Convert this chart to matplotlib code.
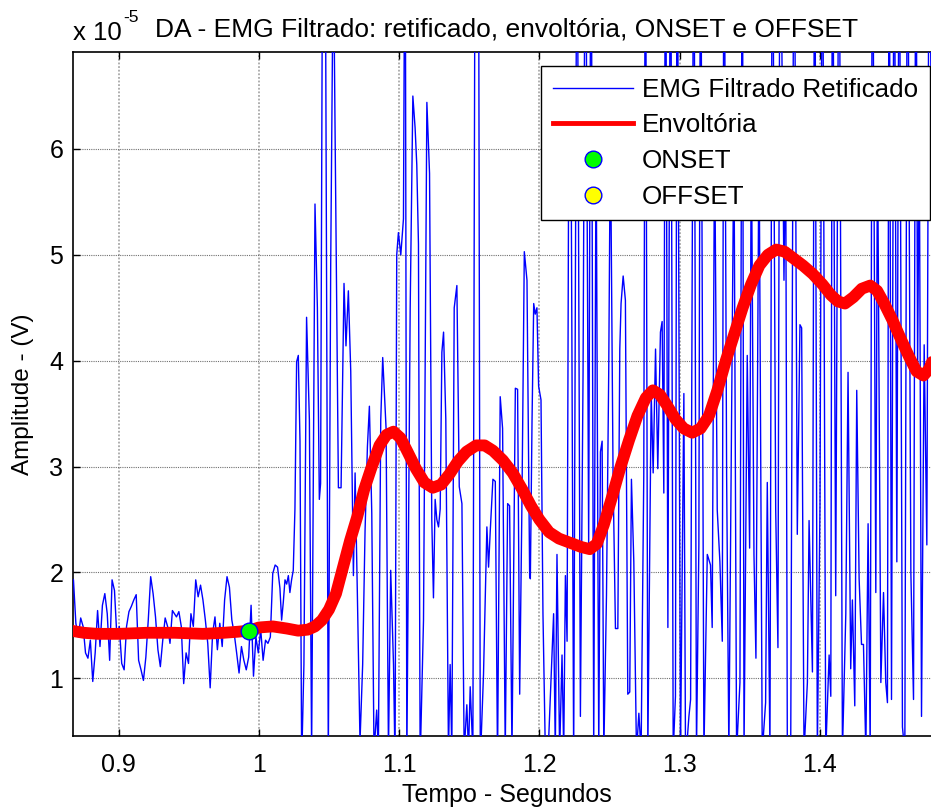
import numpy as np
import matplotlib
matplotlib.use("Agg")
import matplotlib.pyplot as plt
from matplotlib.lines import Line2D

plt.rcParams['font.family'] = ['Liberation Sans', 'DejaVu Sans']

# ---------------- data (amplitude in units of 1e-5 V) ----------------
# baseline segment A (uniform samples between the given times)
segA_t0, segA_t1 = 0.8660, 0.9383
segA_v = [1.95, 1.93, 1.52, 1.39, 1.57, 1.49, 1.24, 1.19, 1.36, 0.97, 1.24, 1.64, 1.30,
          1.69, 1.80, 1.61, 1.17, 1.93, 1.83, 1.39, 1.49, 1.14, 1.08, 1.49, 1.63,
          1.68, 1.74, 1.79, 1.17, 1.08, 0.98, 1.20, 1.55, 1.96, 1.80, 1.58, 1.27,
          1.11, 1.36, 1.57, 1.49, 1.33, 1.64]
# baseline segment B
segB_t0, segB_t1 = 0.9412, 1.0133
segB_v = [1.58, 1.63, 1.49, 0.95, 1.24, 1.14, 1.61, 1.49, 1.93, 1.77, 1.88, 1.74,
          1.55, 1.33, 0.91, 1.42, 1.58, 1.27, 1.52, 1.30, 1.74, 1.96, 1.86, 1.55,
          1.42, 1.24, 1.05, 1.30, 1.17, 1.08, 1.20, 1.69, 1.02, 1.39, 1.24, 1.46,
          1.17, 1.36, 1.33, 1.39, 1.99, 2.07, 2.05]
# activation onset segment C
segC_t = [1.0150, 1.0162, 1.0174, 1.0186, 1.0198, 1.0210, 1.0221, 1.0233, 1.0245, 1.0257,
          1.0269, 1.0281, 1.0293, 1.0305, 1.0321, 1.0340, 1.0360, 1.0376, 1.0400, 1.0417,
          1.0431, 1.0440, 1.0455, 1.0471, 1.0495, 1.0512, 1.0531, 1.0543, 1.0567, 1.0586,
          1.0607, 1.0621, 1.0638, 1.0655, 1.0674, 1.0686, 1.0702, 1.0721, 1.0740, 1.0757,
          1.0774, 1.0788, 1.0805, 1.0821, 1.0840, 1.0852, 1.0869, 1.0883, 1.0907, 1.0924,
          1.0940, 1.0960, 1.0971, 1.0983, 1.0995, 1.1012, 1.1031, 1.1043]
segC_v = [1.85, 1.55, 1.72, 1.93, 1.89, 1.97, 1.81, 1.93, 2.02, 2.60,
          3.99, 4.05, 3.24, 0.20, 1.13, 4.41, 3.44, 0.30, 5.48, 4.50,
          2.69, 2.84, 8.50, 9.00, 0.20, 4.90, 8.00, 6.20, 2.80, 2.80,
          4.73, 4.14, 4.66, 3.90, 1.97, 2.94, 1.81, 0.40, 1.13, 2.39,
          3.19, 3.57, 2.56, 0.30, 0.70, 0.30, 3.44, 4.03, 3.36, 0.30,
          2.02, 1.13, 0.20, 5.00, 5.21, 5.00, 5.34, 9.00]
# segment D
segD_t = [1.1055, 1.1079, 1.1098, 1.1114, 1.1126, 1.1138, 1.1150, 1.1174, 1.1198, 1.1217,
          1.1233, 1.1245, 1.1257, 1.1269, 1.1281, 1.1293, 1.1305, 1.1317, 1.1333, 1.1352,
          1.1364, 1.1376, 1.1393, 1.1412, 1.1429, 1.1448, 1.1464, 1.1483, 1.1495, 1.1507,
          1.1526, 1.1543, 1.1567, 1.1579, 1.1602, 1.1626, 1.1638, 1.1650, 1.1669, 1.1686,
          1.1702, 1.1721, 1.1738, 1.1757, 1.1774, 1.1788, 1.1805, 1.1829, 1.1845, 1.1860,
          1.1876, 1.1893, 1.1912, 1.1931]
segD_v = [0.20, 4.50, 6.50, 6.20, 5.85, 5.10, 0.20, 1.55, 6.44, 5.77,
          2.50, 1.76, 2.69, 2.50, 2.43, 2.60, 4.08, 4.27, 3.45, 0.30,
          1.13, 0.30, 4.50, 4.71, 2.81, 2.65, 0.30, 0.75, 0.30, 0.92,
          0.30, 9.00, 8.00, 0.20, 1.04, 2.43, 2.05, 2.39, 2.88, 2.86,
          0.20, 3.66, 3.36, 0.30, 2.65, 2.63, 0.30, 3.74, 3.73, 0.85,
          2.65, 5.03, 4.76, 1.97]
# segment E
segE_t = [1.1936, 1.1948, 1.1960, 1.1971, 1.1983, 1.1995, 1.2012, 1.2026, 1.2043, 1.2060,
          1.2102, 1.2114, 1.2126, 1.2145, 1.2162, 1.2174, 1.2186, 1.2198, 1.2210, 1.2226,
          1.2245, 1.2269, 1.2293, 1.2312, 1.2329, 1.2352, 1.2369, 1.2388, 1.2405, 1.2424,
          1.2436, 1.2448, 1.2460, 1.2479, 1.2495, 1.2507, 1.2526, 1.2543, 1.2560, 1.2574,
          1.2583, 1.2598, 1.2614, 1.2631, 1.2645, 1.2657, 1.2674, 1.2693, 1.2710, 1.2726,
          1.2745, 1.2757, 1.2774, 1.2798, 1.2812, 1.2829, 1.2845, 1.2864, 1.2876, 1.2888,
          1.2900, 1.2917, 1.2936, 1.2955, 1.2971, 1.2983, 1.3007, 1.3031, 1.3043, 1.3067,
          1.3079, 1.3102, 1.3121, 1.3138, 1.3150, 1.3174, 1.3198, 1.3221, 1.3233, 1.3250,
          1.3269, 1.3288, 1.3305, 1.3317, 1.3336, 1.3352, 1.3371, 1.3388, 1.3407, 1.3431,
          1.3448, 1.3460, 1.3483, 1.3500, 1.3512, 1.3531, 1.3545, 1.3567, 1.3590, 1.3614,
          1.3626, 1.3645, 1.3662, 1.3686, 1.3702, 1.3717, 1.3733, 1.3745, 1.3757, 1.3769,
          1.3793, 1.3817, 1.3840, 1.3859, 1.3871, 1.3888, 1.3912, 1.3924, 1.3948, 1.3964,
          1.3983, 1.4002, 1.4019, 1.4043, 1.4067, 1.4079, 1.4091, 1.4114, 1.4138, 1.4162,
          1.4186, 1.4202, 1.4221, 1.4233, 1.4250, 1.4264, 1.4281, 1.4298, 1.4312, 1.4329,
          1.4345, 1.4360, 1.4376, 1.4400, 1.4412, 1.4436, 1.4455, 1.4471, 1.4483, 1.4495,
          1.4512, 1.4531, 1.4550, 1.4567, 1.4590, 1.4607, 1.4626, 1.4650, 1.4669, 1.4686,
          1.4698, 1.4710, 1.4726, 1.4745, 1.4764, 1.4781, 1.4812, 1.4840, 1.4870]
segE_v = [1.94, 3.43, 4.54, 4.44, 4.50, 3.76, 3.63, 1.61, 0.30, 0.20,
          1.61, 0.30, 2.17, 0.30, 1.22, 0.30, 1.97, 1.35, 6.20, 6.20,
          0.20, 9.00, 0.64, 3.89, 9.00, 2.26, 9.00, 0.30, 6.20, 0.30,
          3.14, 3.24, 0.30, 1.78, 3.89, 6.20, 2.91, 1.47, 1.47, 4.11,
          4.54, 4.80, 4.57, 0.85, 0.87, 2.88, 2.10, 0.30, 0.67, 0.30,
          2.91, 9.00, 0.30, 3.69, 2.94, 4.11, 2.98, 4.27, 4.37, 2.75,
          9.00, 1.48, 9.00, 0.30, 0.83, 9.00, 0.30, 3.69, 0.20, 0.64,
          0.80, 9.00, 0.30, 2.26, 9.00, 0.30, 2.17, 2.07, 1.48, 6.20,
          2.59, 2.10, 1.35, 9.00, 2.91, 0.30, 3.43, 6.20, 0.30, 0.96,
          9.00, 0.30, 4.05, 2.23, 6.20, 2.17, 1.19, 6.20, 0.30, 0.77,
          2.85, 0.30, 9.00, 2.59, 1.29, 9.00, 6.50, 4.76, 6.20, 0.30,
          0.30, 9.00, 2.36, 4.34, 4.31, 0.30, 0.96, 2.49, 1.06, 9.00,
          0.30, 2.65, 9.00, 0.30, 1.22, 0.83, 9.00, 1.78, 9.00, 0.30,
          1.61, 3.89, 1.09, 1.74, 0.74, 3.72, 1.94, 1.32, 1.32, 0.30,
          2.46, 0.30, 9.00, 1.81, 6.20, 0.96, 1.81, 0.96, 0.77, 9.00,
          0.80, 9.00, 2.10, 9.00, 0.54, 0.30, 9.00, 2.00, 0.80, 9.00,
          3.89, 6.20, 0.64, 4.15, 2.26, 9.00, 3.00, 0.30, 5.00]

# envelope (red)
env_t = [0.866, 0.875, 0.885, 0.900, 0.920, 0.940, 0.960, 0.975, 0.985, 0.993,
         1.000, 1.010, 1.020, 1.028, 1.035, 1.040, 1.045, 1.050, 1.055, 1.060,
         1.065, 1.070, 1.075, 1.080, 1.086, 1.091, 1.096, 1.101, 1.106, 1.112,
         1.118, 1.124, 1.130, 1.136, 1.142, 1.148, 1.155, 1.161, 1.167, 1.174,
         1.181, 1.188, 1.194, 1.200, 1.207, 1.214, 1.222, 1.230, 1.236, 1.241,
         1.246, 1.252, 1.258, 1.264, 1.270, 1.276, 1.281, 1.286, 1.291, 1.297,
         1.303, 1.309, 1.315, 1.321, 1.327, 1.333, 1.339, 1.345, 1.351, 1.357,
         1.363, 1.369, 1.375, 1.381, 1.388, 1.395, 1.402, 1.408, 1.413, 1.418,
         1.424, 1.430, 1.436, 1.441, 1.446, 1.452, 1.458, 1.464, 1.469, 1.474,
         1.478, 1.482, 1.487]
env_v = [1.45, 1.43, 1.42, 1.42, 1.43, 1.43, 1.42, 1.43, 1.44, 1.45,
         1.48, 1.49, 1.47, 1.45, 1.46, 1.49, 1.55, 1.65, 1.80, 2.05,
         2.30, 2.52, 2.78, 2.98, 3.20, 3.30, 3.33, 3.27, 3.14, 2.98,
         2.85, 2.80, 2.83, 2.93, 3.05, 3.14, 3.20, 3.20, 3.15, 3.06,
         2.94, 2.78, 2.63, 2.50, 2.38, 2.32, 2.28, 2.24, 2.22, 2.27,
         2.45, 2.72, 3.00, 3.25, 3.48, 3.65, 3.72, 3.68, 3.58, 3.45,
         3.36, 3.32, 3.36, 3.48, 3.72, 4.00, 4.25, 4.50, 4.72, 4.90,
         5.00, 5.05, 5.03, 4.97, 4.90, 4.82, 4.72, 4.62, 4.56, 4.54,
         4.60, 4.68, 4.71, 4.66, 4.54, 4.38, 4.20, 4.03, 3.90, 3.86,
         3.92, 4.05, 4.25]

onset_t = [0.993]
onset_v = [1.45]
offset_t = []
offset_v = []

xticks = [0.9, 1.0, 1.1, 1.2, 1.3, 1.4]
xticklabels = ['0.9', '1', '1.1', '1.2', '1.3', '1.4']
yticks = [1, 2, 3, 4, 5, 6]
yticklabels = ['1', '2', '3', '4', '5', '6']

title = 'DA - EMG Filtrado: retificado, envoltória, ONSET e OFFSET'
xlabel = 'Tempo - Segundos'
ylabel = 'Amplitude - (V)'

# ---------------- figure ----------------
W, H = 931, 807
fig = plt.figure(figsize=(W / 100, H / 100), dpi=100)
L, R, T, B = 73, 941, 52, 736
ax = fig.add_axes([L / W, 1 - B / H, (R - L) / W, (B - T) / H])

emg_t = np.concatenate([np.linspace(segA_t0, segA_t1, len(segA_v)),
                        np.linspace(segB_t0, segB_t1, len(segB_v)),
                        segC_t, segD_t, segE_t])
emg_v = np.concatenate([segA_v, segB_v, segC_v, segD_v, segE_v])

ax.plot(emg_t, emg_v, color='#0000FF', lw=1.0, zorder=3)
ax.plot(env_t, env_v, color='#FF0000', lw=8.5, solid_capstyle='round',
        solid_joinstyle='round', zorder=4)
ax.plot(onset_t, onset_v, 'o', ms=12, mfc='#00FF00', mec='#0000FF', mew=1.0, zorder=5)
ax.plot(offset_t, offset_v, 'o', ms=12, mfc='#FFFF00', mec='#0000FF', mew=1.0, zorder=5)

ax.set_xlim(0.8674, 1.4865)
ax.set_ylim(0.455, 6.916)
ax.set_xticks(xticks)
ax.set_xticklabels(xticklabels)
ax.set_yticks(yticks)
ax.set_yticklabels(yticklabels)
ax.tick_params(direction='in', length=5, width=1, top=True, right=True,
               labelsize=18, pad=7)
ax.tick_params(axis='x', pad=12)

ax.grid(True, axis='x', color='#a8a8a8', ls=(0, (1, 1)), lw=1.3, zorder=1)
ax.grid(True, axis='y', color='#707070', ls=(0, (1, 1)), lw=0.8, zorder=1)
for s in ax.spines.values():
    s.set_linewidth(1.2)
    s.set_color('black')

ax.set_title(title, fontsize=19, pad=11)
ax.set_xlabel(xlabel, fontsize=18)
ax.set_ylabel(ylabel, fontsize=17.5)
ax.xaxis.set_label_coords(0.5, -0.068)
ax.yaxis.set_label_coords(-0.045, 0.5)

ax.text(0.0, 1.0 + 12 / (B - T), 'x 10', transform=ax.transAxes, fontsize=18.5,
        ha='left', va='baseline')
ax.text(50 / (R - L), 1.0 + 30 / (B - T), '-5', transform=ax.transAxes, fontsize=12.5,
        ha='left', va='baseline')

handles = [Line2D([], [], color='#0000FF', lw=1.0),
           Line2D([], [], color='#FF0000', lw=3.5),
           Line2D([], [], ls='none', marker='o', ms=12, mfc='#00FF00', mec='#0000FF', mew=1.0),
           Line2D([], [], ls='none', marker='o', ms=12, mfc='#FFFF00', mec='#0000FF', mew=1.0)]
labels = ['EMG Filtrado Retificado', 'Envoltória', 'ONSET', 'OFFSET']
leg = ax.legend(handles, labels, loc='upper right',
                bbox_to_anchor=(930 / W, 1 - 66 / H), bbox_transform=fig.transFigure,
                fontsize=18.7, frameon=True, fancybox=False, framealpha=1,
                edgecolor='black', borderaxespad=0, handlelength=3.1,
                handletextpad=0.35, labelspacing=0.45, borderpad=0.45)
leg.get_frame().set_linewidth(1.0)
leg.set_zorder(10)

fig.savefig('out.png', dpi=100)
